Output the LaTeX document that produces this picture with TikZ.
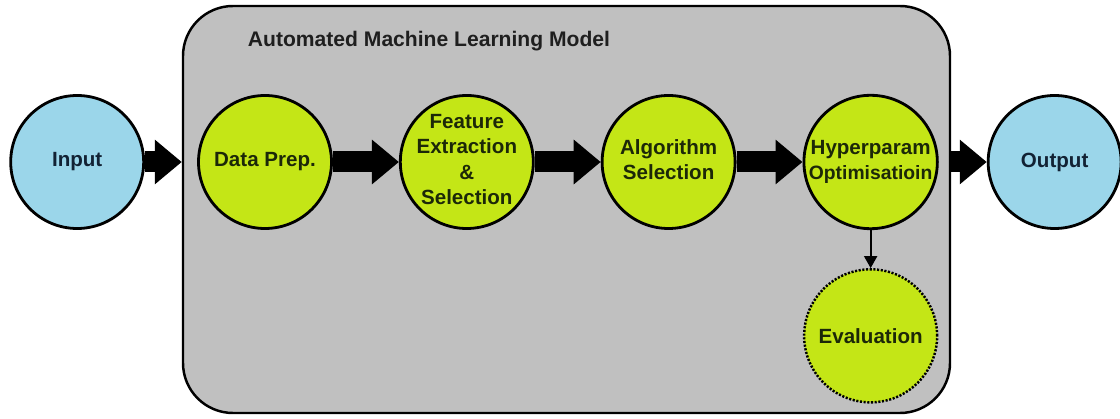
\documentclass[tikz,border=0pt]{standalone}
\usepackage{fontspec}
\setmainfont{Liberation Sans}
\usetikzlibrary{positioning,arrows.meta}
\definecolor{lima}{RGB}{196,230,22}
\definecolor{celeste}{RGB}{155,214,234}
\definecolor{gris}{RGB}{192,192,192}
\definecolor{textoverde}{RGB}{28,40,8}
\definecolor{textoazul}{RGB}{18,34,52}
\begin{document}
\begin{tikzpicture}[node distance=1.32cm,
		etapa/.style={circle,draw,line width=1.6pt,fill=lima,text=textoverde,
			minimum size=2.66cm,inner sep=0pt,font=\bfseries},
		extremo/.style={etapa,fill=celeste,text=textoazul},
		flecha/.style={line width=0.42cm,-{Triangle[length=0.54cm,width=0.86cm]}},
		flechita/.style={line width=1.1pt,-{Triangle[length=0.24cm,width=0.26cm]}}]
	\useasboundingbox (0,0) rectangle (22.4,-8.38);
	% Caja del modelo
	\node[draw,line width=1.4pt,fill=gris,rounded corners=1cm,
		minimum width=15.34cm,minimum height=8.14cm] (modelo) at (11.33,-4.19) {};
	\node[anchor=base west,font=\bfseries\fontsize{12}{14}\selectfont,text=black!88]
		(titulo) at ([shift={(1.2,-0.84)}]modelo.north west) {Automated Machine Learning Model};
	% Definir los nodos del modelo
	{\fontsize{11.7}{14.5}\selectfont
	\node[etapa] (prep) at (5.3,-3.24) {Data Prep.};
	\node[etapa,right=of prep] (rasgos) {%
		\raisebox{-0.9ex}{\smash{%
		\begin{tabular}{@{}c@{}}
			Feature\\
			Extraction\\
			\&\\
			Selection
		\end{tabular}}}
	};
	\node[etapa,right=of rasgos] (algoritmo) {%
		\begin{tabular}{@{}c@{}}
			Algorithm\\
			Selection
		\end{tabular}
	};
	\node[etapa,right=of algoritmo] (hiper) {%
		\begin{tabular}{@{}c@{}}
			Hyperparam\\
			{\fontsize{11}{14.5}\selectfont Optimisatioin}
		\end{tabular}
	};
	\node[etapa,below=0.76cm of hiper,dash pattern=on 1.2pt off 0.9pt,line width=1.4pt] (evaluacion) {Evaluation};
	\node[extremo,left=1.04cm of prep] (entrada) {Input};
	\node[extremo,right=0.96cm of hiper] (salida) {Output};
	}
	% Flechas
	\draw[flecha] (entrada.east) -- (entrada.east -| modelo.west);
	\draw[flecha] (prep.east) -- (rasgos.west);
	\draw[flecha] (rasgos.east) -- (algoritmo.west);
	\draw[flecha] (algoritmo.east) -- (hiper.west);
	\draw[flecha] (hiper.east -| modelo.east) -- (salida.west);
	\draw[flechita] (hiper.south) -- (evaluacion.north);
\end{tikzpicture}
\end{document}
